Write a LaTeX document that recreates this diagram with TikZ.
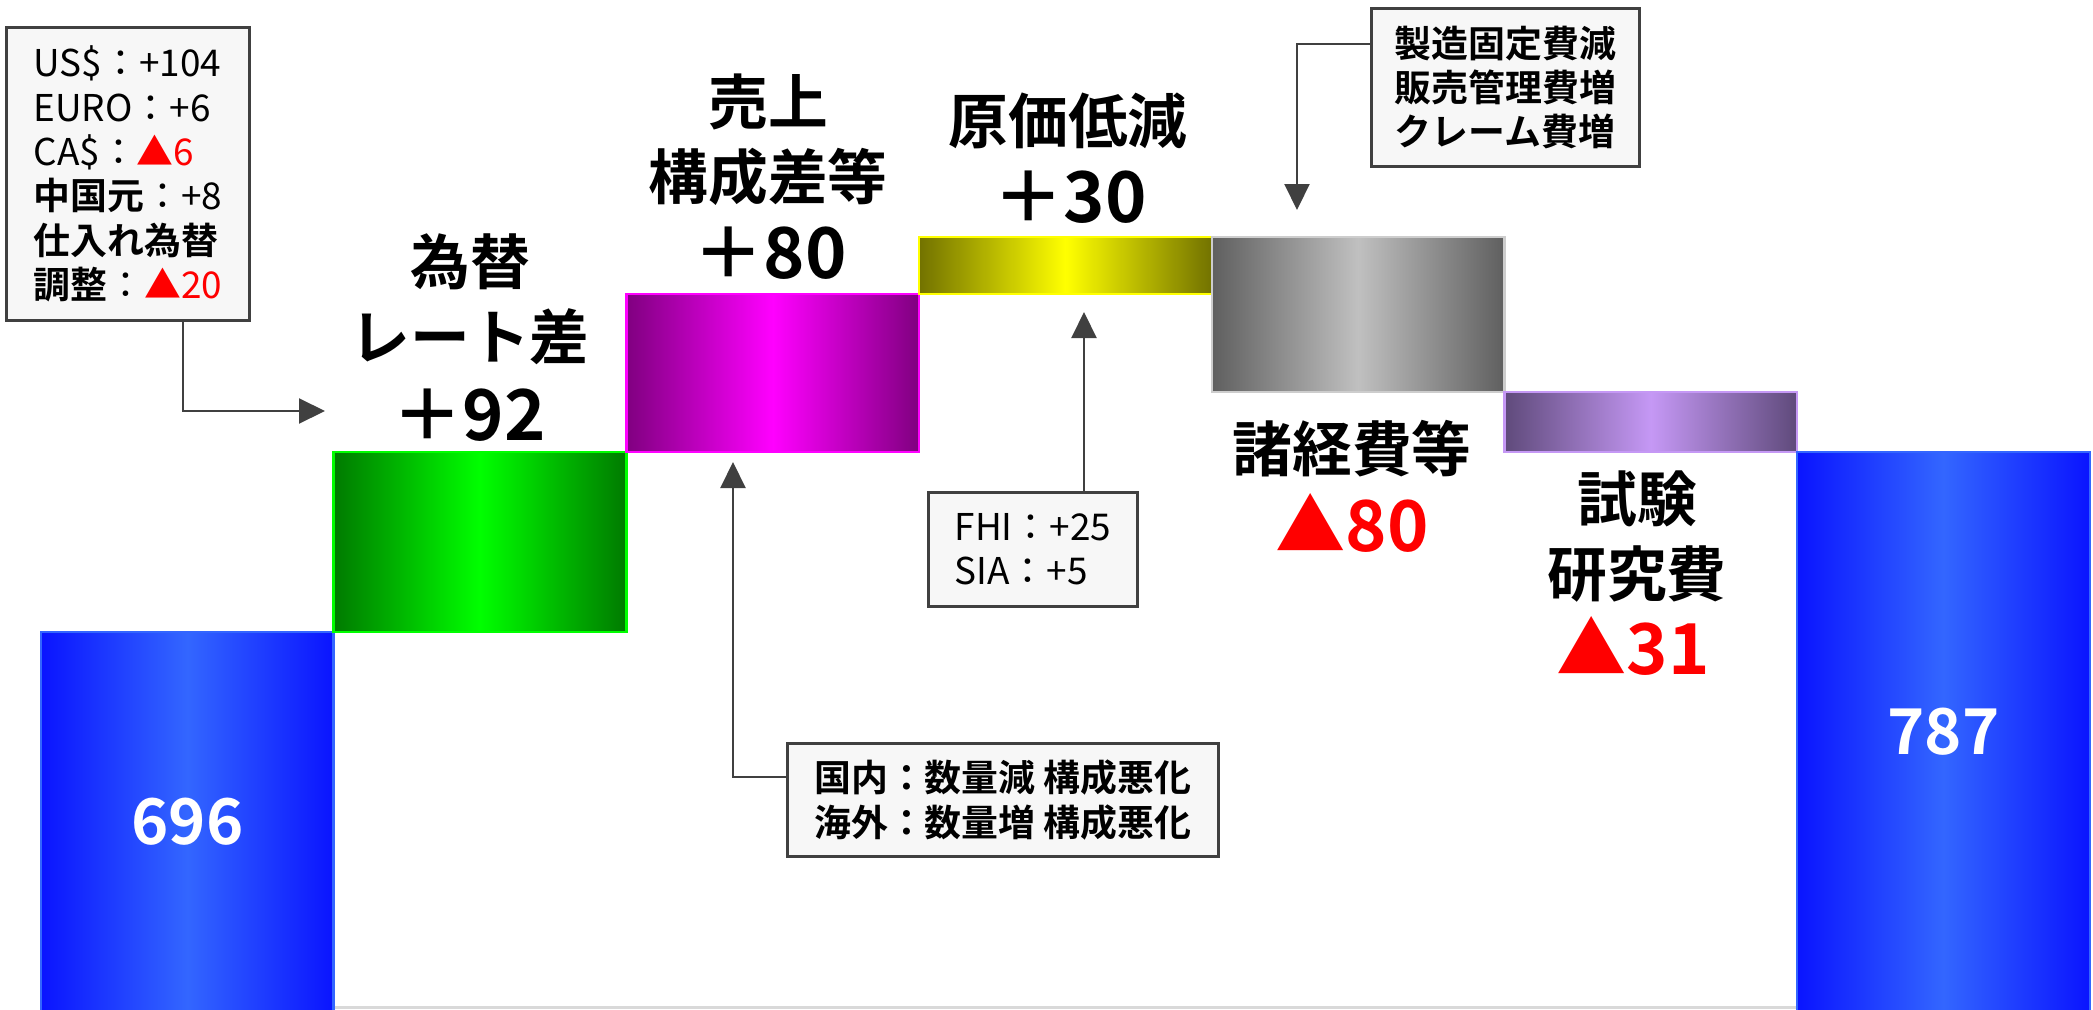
\documentclass[tikz,border=0pt]{standalone}
\usepackage{fontspec}
\setmainfont{Noto Sans CJK JP}[BoldFont={Noto Sans CJK JP Bold}]
\usetikzlibrary{arrows.meta,positioning}

\definecolor{blueedge}{HTML}{0A14FF}
\definecolor{bluemid}{HTML}{3366FF}
\definecolor{greenedge}{HTML}{007A00}
\definecolor{greenmid}{HTML}{00FF00}
\definecolor{magedge}{HTML}{800080}
\definecolor{magmid}{HTML}{FF00FF}
\definecolor{yelledge}{HTML}{727200}
\definecolor{yellmid}{HTML}{FFFF00}
\definecolor{grayedge}{HTML}{5F5F5F}
\definecolor{graymid}{HTML}{C0C0C0}
\definecolor{purpedge}{HTML}{5F4A7B}
\definecolor{purpmid}{HTML}{C598F5}
\definecolor{callfill}{HTML}{F7F7F7}
\definecolor{calledge}{HTML}{404040}
\definecolor{axisgray}{HTML}{D9D9D9}

\tikzset{
  bar/.style={draw, line width=0.7pt, inner sep=0pt, outer sep=0pt, anchor=north west, minimum width=29.27mm},
  bluebar/.style={bar, draw=bluemid, left color=blueedge, right color=blueedge, middle color=bluemid, text=white, font=\bfseries\fontsize{18}{22}\selectfont},
  greenbar/.style={bar, draw=greenmid, left color=greenedge, right color=greenedge, middle color=greenmid},
  magbar/.style={bar, draw=magmid, left color=magedge, right color=magedge, middle color=magmid},
  yellbar/.style={bar, draw=yellmid, left color=yelledge, right color=yelledge, middle color=yellmid},
  graybar/.style={bar, draw=graymid!80!white, left color=grayedge, right color=grayedge, middle color=graymid},
  purpbar/.style={bar, draw=purpmid, left color=purpedge, right color=purpedge, middle color=purpmid},
  namelbl/.style={anchor=base, align=center, font=\bfseries\fontsize{17}{21.3}\selectfont},
  vallbl/.style={anchor=base, font=\bfseries\fontsize{20}{24}\selectfont},
  callbox/.style={draw=calledge, fill=callfill, line width=0.8pt, anchor=north west, align=left, inner sep=0pt, font=\fontsize{10.5}{12.6}\selectfont},
  callarrow/.style={draw=calledge, line width=0.6pt, -{Triangle[length=2.6mm, width=2.5mm]}}
}

\begin{document}
\begin{tikzpicture}[x=0.1mm, y=-0.1mm]
  \useasboundingbox (0,0) rectangle (2093,1009);
  \draw[axisgray, line width=0.6pt] (41,1007.5) -- (2090,1007.5);

  % bars
  \node[bluebar, minimum height=38mm] (b696) at (41,632) {696};
  \node[greenbar, minimum height=18mm] (bfx) at (333.7,452) {};
  \node[magbar, minimum height=15.8mm] (bmix) at (626.4,294) {};
  \node[yellbar, minimum height=5.7mm] (bcost) at (919.1,237) {};
  \node[graybar, minimum height=15.5mm] (bsga) at (1211.8,237) {};
  \node[purpbar, minimum height=6mm] (brd) at (1504.5,392) {};
  \node[bluebar, minimum height=56mm] (b787) at (1797.2,452) {787};

  % labels
  \node[namelbl] (fxname) at (470,359) {為替\\レート差};
  \node[vallbl] (fxval) at (469,440) {＋92};
  \node[namelbl] (mixname) at (768,199) {売上\\構成差等};
  \node[vallbl] (mixval) at (770,278) {＋80};
  \node[namelbl] (costname) at (1068,143) {原価低減};
  \node[vallbl] (costval) at (1070,222) {＋30};
  \node[namelbl] (sganame) at (1352,471) {諸経費等};
  \node[vallbl, text=red] (sgaval) at (1352,551) {▲80};
  \node[namelbl] (rdname) at (1637,596) {試験\\研究費};
  \node[vallbl, text=red] (rdval) at (1633,674) {▲31};

  % callouts
  \node[callbox, minimum width=24.3mm, minimum height=29.3mm] (fxbox) at (5,26)
    {US\$：+104\\EURO：+6\\CA\$：{\color{red}▲6}\\{\bfseries 中国元}：+8\\{\bfseries 仕入れ為替}\\{\bfseries 調整}：{\color{red}▲20}};
  \node[callbox, font=\bfseries\fontsize{10.5}{12.6}\selectfont, minimum width=26.8mm, minimum height=15.8mm] (sgabox) at (1370,7)
    {製造固定費減\\販売管理費増\\クレーム費増};
  \node[callbox, minimum width=20.9mm, minimum height=11.4mm] (fhibox) at (927,491)
    {FHI：+25\\SIA：+5};
  \node[callbox, font=\bfseries\fontsize{10.5}{12.6}\selectfont, minimum width=43.1mm, minimum height=11.3mm] (mixbox) at (786,742)
    {国内：数量減 構成悪化\\海外：数量増 構成悪化};

  % arrows
  \coordinate (fxknee) at (183,411);
  \coordinate (fxtip) at (325,411);
  \coordinate (sgaknee) at (1297,44);
  \coordinate (sgatip) at (1297,210);
  \coordinate (costtip) at (1084,312);
  \coordinate (mixknee) at (733,777);
  \coordinate (mixtip) at (733,462);
  \draw[callarrow] (fxknee |- fxbox.south) |- (fxtip);
  \draw[callarrow] (sgaknee -| sgabox.west) -| (sgatip);
  \draw[callarrow] (costtip |- fhibox.north) -- (costtip);
  \draw[callarrow] (mixknee -| mixbox.west) -| (mixtip);
\end{tikzpicture}
\end{document}
